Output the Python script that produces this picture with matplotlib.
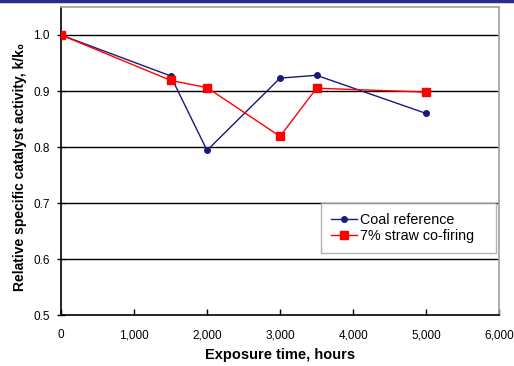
import numpy as np
import matplotlib.pyplot as plt

plt.rcParams['font.family'] = ['Liberation Sans', 'DejaVu Sans']

# Data
hours = [0, 1500, 2000, 3000, 3500, 5000]
coal_ref = [1.0, 0.927, 0.794, 0.923, 0.928, 0.860]
straw = [1.0, 0.919, 0.906, 0.819, 0.905, 0.898]

x_ticks = [0, 1000, 2000, 3000, 4000, 5000, 6000]
x_labels = ["0", "1,000", "2,000", "3,000", "4,000", "5,000", "6,000"]
y_ticks = [0.5, 0.6, 0.7, 0.8, 0.9, 1.0]

fig = plt.figure(figsize=(5.14, 3.66), dpi=100)
ax = fig.add_axes([0.1187, 0.139, 0.8523, 0.842])

# slide border on top
fig.add_artist(plt.Line2D([0, 1], [0.997, 0.997], color="#2b2b8c", lw=2.5,
                          transform=fig.transFigure))

for y in y_ticks[1:]:
    ax.axhline(y, color="black", lw=1.0, zorder=1)

ax.plot(hours, coal_ref, color="#1a1a7a", lw=1.0, marker="o", markersize=4,
        label="Coal reference", zorder=3)
ax.plot(hours, straw, color="#ff0000", lw=1.0, marker="s", markersize=5.5,
        label="7% straw co-firing", zorder=4)

ax.set_xlim(0, 6000)
ax.set_ylim(0.5, 1.05)
ax.set_xticks(x_ticks)
ax.set_xticklabels(x_labels)
ax.set_yticks(y_ticks)
ax.set_yticklabels([f"{v:.1f}" for v in y_ticks])
ax.tick_params(axis="both", labelsize=8.5, colors="black", width=1.0)
ax.tick_params(axis="y", direction="inout", length=6, pad=5)
ax.tick_params(axis="x", direction="in", length=4, pad=10)

for side in ["top", "right"]:
    ax.spines[side].set_color("#a0a0a0")
    ax.spines[side].set_linewidth(1.2)
for side in ["left", "bottom"]:
    ax.spines[side].set_color("black")
    ax.spines[side].set_linewidth(1.2)

ax.set_xlabel("Exposure time, hours", fontsize=10.5, fontweight="bold")
ax.set_ylabel("Relative specific catalyst activity, k/k\u2080", fontsize=10,
              fontweight="bold")
ax.xaxis.set_label_coords(0.5, -0.108)
ax.yaxis.set_label_coords(-0.078, 0.48)

leg = ax.legend(loc="lower left", bbox_to_anchor=(0.594, 0.201, 0.399, 0.15),
                mode="expand", fontsize=10.3,
                frameon=True, fancybox=False, edgecolor="#a0a0a0",
                handlelength=1.8, borderpad=0.7, labelspacing=0.15,
                handletextpad=0.2, borderaxespad=0)
leg.get_frame().set_linewidth(1.0)

fig.savefig("out.png", dpi=100)
